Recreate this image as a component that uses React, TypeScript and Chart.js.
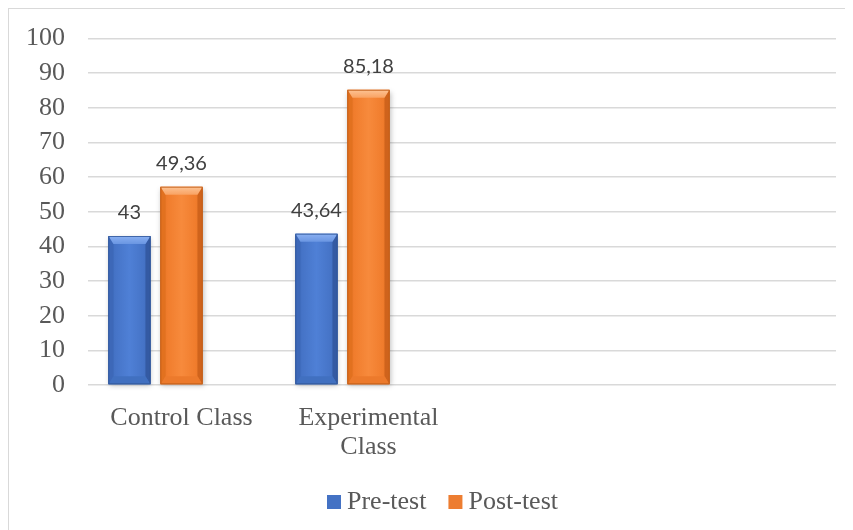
import React, { useEffect, useRef } from 'react';
import { Chart, registerables } from 'chart.js';

Chart.register(...registerables);

// ---- data ----
const categories: (string | string[])[] = ['Control Class', ['Experimental', 'Class'], '', ''];
const seriesNames = ['Pre-test', 'Post-test'];
const preTest: (number | null)[] = [43, 43.64, null, null];
const postTest: (number | null)[] = [57.2, 85.18, null, null];
const preLabels = ['43', '43,64'];
const postLabels = ['49,36', '85,18'];
const yMin = 0;
const yMax = 100;
const yStep = 10;

// ---- styles ----
const SERIF = "'Liberation Serif', 'Times New Roman', serif";
const SANS = "Lato, 'Open Sans', sans-serif";
const LEGEND_SHIFT = 47;
const PALETTES = [
  {
    base: '#4472c4', edge: '#3560ad', main: '#4573c6', light: '#4f80d6',
    top1: '#8ab0f2', top2: '#6a96e2', left: '#3d68b8', right: '#345aa3', bottom: '#4170c0', stroke: '#2f5597',
  },
  {
    base: '#ed7d31', edge: '#cf661f', main: '#f07c2c', light: '#f78a3c',
    top1: '#fdc394', top2: '#f9a262', left: '#e2711f', right: '#cf631c', bottom: '#ec7a2c', stroke: '#c05d17',
  },
];

function drawBevelBar(ctx: CanvasRenderingContext2D, x: number, top: number, base: number, w: number, p: any) {
  const l = x - w / 2;
  const r = x + w / 2;
  const h = base - top;
  if (h <= 0) return;
  const bt = Math.min(8, h / 2);
  const bs = Math.min(5, w / 4);
  ctx.save();
  ctx.shadowColor = 'rgba(0,0,0,0.25)';
  ctx.shadowBlur = 5;
  ctx.shadowOffsetX = 1;
  ctx.shadowOffsetY = 2;
  const g = ctx.createLinearGradient(l, 0, r, 0);
  g.addColorStop(0, p.edge);
  g.addColorStop(0.15, p.main);
  g.addColorStop(0.5, p.light);
  g.addColorStop(0.85, p.main);
  g.addColorStop(1, p.edge);
  ctx.fillStyle = g;
  ctx.fillRect(l, top, w, h);
  ctx.shadowColor = 'transparent';
  ctx.shadowBlur = 0;
  ctx.shadowOffsetX = 0;
  ctx.shadowOffsetY = 0;
  // left bevel
  ctx.beginPath();
  ctx.moveTo(l, top);
  ctx.lineTo(l + bs, top + bt);
  ctx.lineTo(l + bs, base - bt);
  ctx.lineTo(l, base);
  ctx.closePath();
  ctx.fillStyle = p.left;
  ctx.fill();
  // right bevel
  ctx.beginPath();
  ctx.moveTo(r, top);
  ctx.lineTo(r - bs, top + bt);
  ctx.lineTo(r - bs, base - bt);
  ctx.lineTo(r, base);
  ctx.closePath();
  ctx.fillStyle = p.right;
  ctx.fill();
  // bottom bevel
  ctx.beginPath();
  ctx.moveTo(l, base);
  ctx.lineTo(l + bs, base - bt);
  ctx.lineTo(r - bs, base - bt);
  ctx.lineTo(r, base);
  ctx.closePath();
  ctx.fillStyle = p.bottom;
  ctx.fill();
  // top bevel
  const tg = ctx.createLinearGradient(0, top, 0, top + bt);
  tg.addColorStop(0, p.top1);
  tg.addColorStop(1, p.top2);
  ctx.beginPath();
  ctx.moveTo(l, top);
  ctx.lineTo(r, top);
  ctx.lineTo(r - bs, top + bt);
  ctx.lineTo(l + bs, top + bt);
  ctx.closePath();
  ctx.fillStyle = tg;
  ctx.fill();
  ctx.strokeStyle = p.stroke;
  ctx.lineWidth = 0.8;
  ctx.strokeRect(l + 0.4, top + 0.4, w - 0.8, h - 0.8);
  ctx.restore();
}

const bevelPlugin = {
  id: 'bevelBars',
  afterLayout(chart: any) {
    if (chart.legend) chart.legend.left += LEGEND_SHIFT;
  },
  afterDatasetsDraw(chart: any) {
    const ctx: CanvasRenderingContext2D = chart.ctx;
    chart.data.datasets.forEach((ds: any, di: number) => {
      const pal = PALETTES[di];
      if (!pal) return;
      const meta = chart.getDatasetMeta(di);
      meta.data.forEach((el: any, i: number) => {
        const v = ds.data[i];
        if (v == null) return;
        const { x, y, base, width } = el.getProps(['x', 'y', 'base', 'width'], true);
        drawBevelBar(ctx, x, y, base, width, pal);
        const txt = ds.valueLabels ? ds.valueLabels[i] : undefined;
        if (txt) {
          ctx.save();
          ctx.font = `20px ${SANS}`;
          ctx.fillStyle = '#404040';
          ctx.textAlign = 'center';
          ctx.textBaseline = 'alphabetic';
          ctx.fillText(txt, x, y - 17);
          ctx.restore();
        }
      });
    });
  },
};

export default function App() {
  const ref = useRef<HTMLCanvasElement>(null);
  useEffect(() => {
    document.documentElement.style.overflow = 'hidden';
    document.body.style.overflow = 'hidden';
    const canvas = ref.current;
    if (!canvas) return;
    const chart = new Chart(canvas, {
      type: 'bar',
      data: {
        labels: categories,
        datasets: [
          {
            label: seriesNames[0],
            data: preTest,
            backgroundColor: PALETTES[0].base,
            borderColor: PALETTES[0].stroke,
            borderWidth: 0,
            valueLabels: preLabels,
          } as any,
          {
            label: seriesNames[1],
            data: postTest,
            backgroundColor: PALETTES[1].base,
            borderColor: PALETTES[1].stroke,
            borderWidth: 0,
            valueLabels: postLabels,
          } as any,
          {
            label: '',
            data: categories.map(() => null),
            backgroundColor: 'transparent',
            borderWidth: 0,
          } as any,
        ],
      },
      options: {
        responsive: false,
        animation: false,
        datasets: {
          bar: { categoryPercentage: 0.835, barPercentage: 0.808 },
        },
        layout: { padding: { top: 10, right: 39, bottom: 6, left: 0 } },
        plugins: {
          tooltip: { enabled: false },
          legend: {
            position: 'bottom',
            labels: {
              filter: (item: any) => item.datasetIndex < 2,
              usePointStyle: true,
              pointStyle: 'rect',
              boxWidth: 0.01,
              boxHeight: 14,
              padding: 29,
              color: '#595959',
              font: { family: SERIF, size: 26 },
            },
          },
        },
        scales: {
          x: {
            grid: { display: false, drawTicks: false },
            border: { display: false },
            ticks: {
              color: '#595959',
              font: { family: SERIF, size: 26, lineHeight: 1.1 },
              padding: 19,
              maxRotation: 0,
              autoSkip: false,
            },
            afterFit: (scale: any) => { scale.height = 75; },
          },
          y: {
            min: yMin,
            max: yMax,
            grid: { color: '#d9d9d9', lineWidth: 1.6, drawTicks: false },
            border: { display: false },
            ticks: {
              stepSize: yStep,
              autoSkip: false,
              color: '#595959',
              font: { family: SERIF, size: 26, lineHeight: 0.5 },
              padding: 23,
            },
            afterFit: (scale: any) => { scale.width = 79; },
          },
        },
      },
      plugins: [bevelPlugin],
    });
    return () => chart.destroy();
  }, []);
  return (
    <div style={{ width: 866, height: 522, border: '1px solid #d9d9d9', background: '#fff' }}>
      <canvas ref={ref} width={866} height={522} style={{ display: 'block' }} />
    </div>
  );
}
